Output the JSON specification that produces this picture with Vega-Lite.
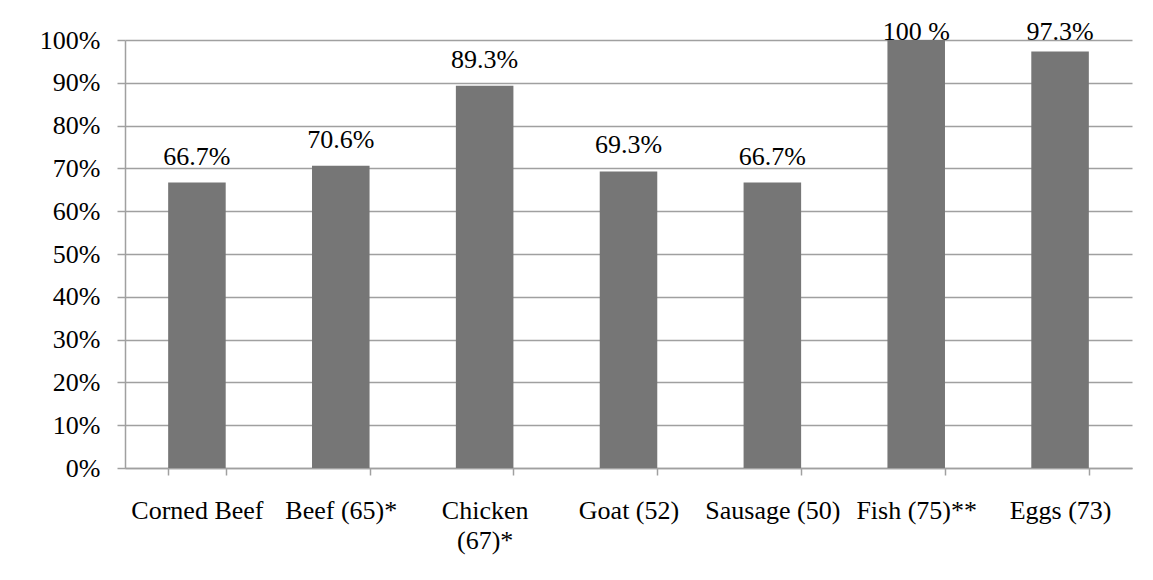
{
  "$schema": "https://vega.github.io/schema/vega-lite/v6.json",
  "width": 1007,
  "height": 428,
  "autosize": {"type": "none"},
  "padding": {"left": 125, "top": 40, "right": 21, "bottom": 112},
  "background": "white",
  "config": {
    "view": {"stroke": null},
    "font": "Times New Roman, Liberation Serif, serif",
    "axis": {
      "labelFont": "Times New Roman, Liberation Serif, serif",
      "labelFontSize": 26,
      "labelColor": "black",
      "domainColor": "#a0a0a0",
      "domainWidth": 1.5,
      "tickColor": "#a0a0a0",
      "tickWidth": 1.5,
      "gridColor": "#a0a0a0",
      "gridWidth": 1.5,
      "title": null
    }
  },
  "data": {
    "values": [
      {"food": "Corned Beef", "value": 66.7, "label": "66.7%"},
      {"food": "Beef (65)*", "value": 70.6, "label": "70.6%"},
      {"food": "Chicken (67)*", "value": 89.3, "label": "89.3%"},
      {"food": "Goat (52)", "value": 69.3, "label": "69.3%"},
      {"food": "Sausage (50)", "value": 66.7, "label": "66.7%"},
      {"food": "Fish (75)**", "value": 100, "label": "100 %"},
      {"food": "Eggs (73)", "value": 97.3, "label": "97.3%"}
    ]
  },
  "encoding": {
    "x": {
      "field": "food",
      "type": "nominal",
      "sort": null,
      "scale": {"paddingInner": 0.6, "paddingOuter": 0.3},
      "axis": {
        "labelAngle": 0,
        "tickBand": "extent",
        "tickSize": 7,
        "labelPadding": 22,
        "labelBaseline": "top",
        "labelLineHeight": 30,
        "labelExpr": "datum.value == 'Chicken (67)*' ? ['Chicken', '(67)*'] : datum.label",
        "grid": false
      }
    }
  },
  "layer": [
    {
      "mark": {"type": "bar", "color": "#767676"},
      "encoding": {
        "y": {
          "field": "value",
          "type": "quantitative",
          "scale": {"domain": [0, 100], "nice": false},
          "axis": {
            "values": [0, 10, 20, 30, 40, 50, 60, 70, 80, 90, 100],
            "labelExpr": "datum.value + '%'",
            "tickSize": 8,
            "labelPadding": 17,
            "grid": true
          }
        }
      }
    },
    {
      "transform": [
        {"calculate": "min(datum.value, 95.8)", "as": "labelAnchor"}
      ],
      "mark": {
        "type": "text",
        "font": "Times New Roman, Liberation Serif, serif",
        "fontSize": 26,
        "color": "black",
        "baseline": "alphabetic",
        "dy": -18
      },
      "encoding": {
        "y": {"field": "labelAnchor", "type": "quantitative"},
        "text": {"field": "label", "type": "nominal"}
      }
    }
  ]
}
